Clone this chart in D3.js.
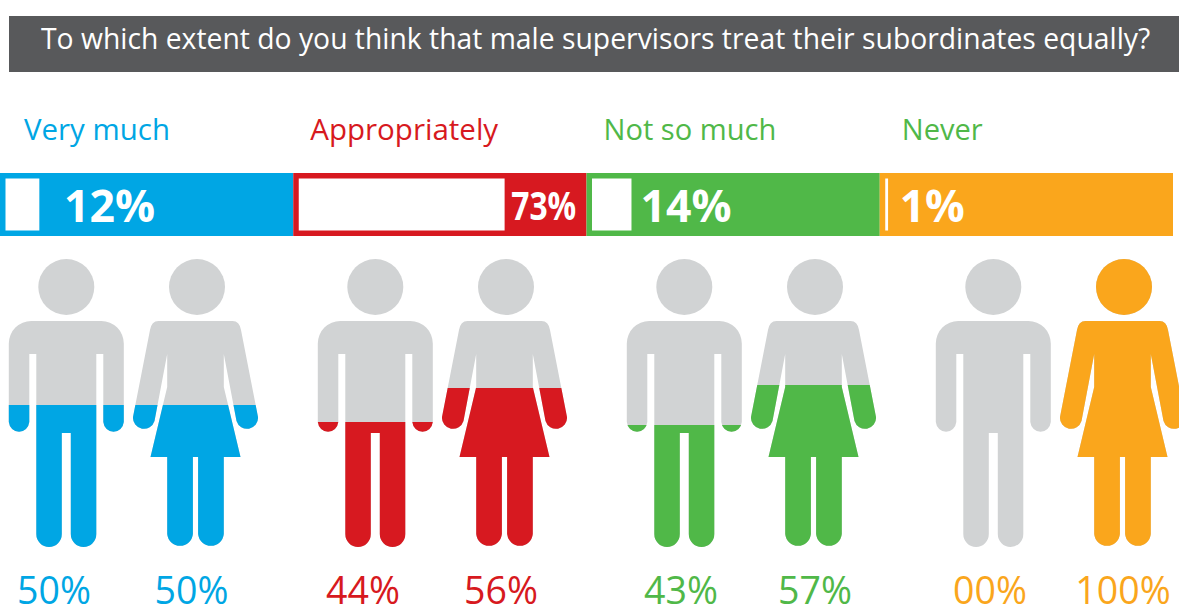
<!DOCTYPE html>
<html>
<head>
<meta charset="utf-8">
<script src="https://cdn.jsdelivr.net/npm/d3@7/dist/d3.min.js"></script>
<style>
  html, body { margin: 0; padding: 0; background: #fff; overflow: hidden; }
  text { font-family: "Open Sans", "Noto Sans", sans-serif; }
</style>
</head>
<body>
<svg id="chart" width="1179" height="609"></svg>
<script>
// Survey answers
const question = "To which extent do you think that male supervisors treat their subordinates equally?";
const categories = ["Very much", "Appropriately", "Not so much", "Never"];
const overallShare = [12, 73, 14, 1];
const maleShare = [50, 44, 43, 0];
const femaleShare = [50, 56, 57, 100];
const maleLabels = ["50%", "44%", "43%", "00%"];
const femaleLabels = ["50%", "56%", "57%", "100%"];
const barColors = ["#00a6e4", "#d71920", "#50b848", "#faa61c"];
const headerColors = ["#00a6e4", "#d71920", "#50b848", "#50b848"];

const GREY = "#d1d3d4";
const svg = d3.select("#chart");

// Squeezes a text horizontally to a target width, keeping its glyph height
function placeFitted(sel, x, y, width) {
  sel.each(function () {
    const k = width / this.getComputedTextLength();
    d3.select(this).attr("transform", `translate(${x},${y}) scale(${k},1)`);
  });
}

// Title banner
svg.append("rect").attr("x", 9).attr("y", 16).attr("width", 1170).attr("height", 56).attr("fill", "#58595b");
svg.append("text").attr("font-size", 30).attr("fill", "#fff").text(question)
  .call(placeFitted, 41, 49, 1110);

// Stacked band of four equal panels, each holding a white gauge
const bandX = d3.scaleBand().domain(categories).range([0, 1173]);
const gaugeW = d3.scaleLinear().domain([0, 100]).range([0, 282]);
const headerOffset = [24, 17, 17, 22];
const headerWidth = [146, 188, 173, 81];
const valueOffset = [64, 218, 54, 20];
const valueBaseline = [222, 220, 222, 222];
const valueWidth = [91, 65, 91, 65];
const valueSize = [45, 40, 45, 45];

const panels = svg.selectAll("g.panel").data(categories).join("g").attr("class", "panel")
  .attr("transform", c => `translate(${bandX(c)},0)`);

panels.append("rect").attr("y", 173).attr("height", 63)
  .attr("width", bandX.bandwidth()).attr("fill", (c, i) => barColors[i]);
panels.append("rect").attr("x", 5.5).attr("y", 178.5).attr("height", 52)
  .attr("width", (c, i) => gaugeW(overallShare[i])).attr("fill", "#fff");
panels.append("text")
  .attr("font-size", (c, i) => valueSize[i]).attr("font-weight", 700).attr("fill", "#fff")
  .text((c, i) => overallShare[i] + "%")
  .each(function (c, i) {
    d3.select(this).call(placeFitted, valueOffset[i], valueBaseline[i], valueWidth[i]);
  });
panels.append("text")
  .attr("font-size", 30).attr("fill", (c, i) => headerColors[i])
  .text(c => c)
  .each(function (c, i) {
    d3.select(this).call(placeFitted, headerOffset[i], 140, headerWidth[i]);
  });

// Pictogram outlines, centred on x = 0 with y on the page
const manBody = "M-35,321 H35 A22.5,22.5 0 0 1 57.5,343.5 V422 A10.3,10.7 0 0 1 37,422 V354 H30 V534 A12.7,13 0 0 1 4.5,534 V433 H-4.5 V534 A12.7,13 0 0 1 -30,534 V354 H-37 V422 A10.3,10.7 0 0 1 -57.5,422 V343.5 A22.5,22.5 0 0 1 -35,321 Z";
const womanBody = "M-37,321 H37 Q44,321 45.5,330 L62.5,417 A11,11 0 0 1 41,421 L28.3,354 V387 L45,457 H28.3 V534 A12.9,13 0 0 1 2.6,534 V457 H-2.6 V534 A12.9,13 0 0 1 -28.3,534 V457 H-45 L-28.3,387 V354 L-41,421 A11,11 0 0 1 -62.5,417 L-45.5,330 Q-44,321 -37,321 Z";

const figureGroup = d3.scaleBand().domain(categories).range([10, 1246]);
const fillY = d3.scaleLinear().domain([0, 100]).range([547, 263]);
const maleLabelX = [54, 363, 681, 990];
const femaleLabelX = [191.5, 501, 815, 1123];

function drawFigure(id, body, cx, headDx, value, color, label, labelX) {
  const g = svg.append("g").attr("transform", `translate(${cx},0)`);
  const shape = (sel, fill) => {
    sel.append("circle").attr("cx", headDx).attr("cy", 287).attr("r", 28).attr("fill", fill);
    sel.append("path").attr("d", body).attr("fill", fill);
  };
  shape(g, GREY);
  if (value > 0) {
    const top = value >= 100 ? 250 : fillY(value);
    g.append("clipPath").attr("id", id).append("rect")
      .attr("x", -70).attr("y", top).attr("width", 140).attr("height", 560 - top);
    shape(g.append("g").attr("clip-path", `url(#${id})`), color);
  }
  svg.append("text").attr("x", labelX).attr("y", 604).attr("text-anchor", "middle")
    .attr("font-size", 37.5).attr("fill", color).text(label);
}

categories.forEach((c, i) => {
  const x0 = figureGroup(c);
  drawFigure(`man-${i}`, manBody, x0 + 56.3, 0, maleShare[i], barColors[i], maleLabels[i], maleLabelX[i]);
  drawFigure(`woman-${i}`, womanBody, x0 + 185.5, 1.5, femaleShare[i], barColors[i], femaleLabels[i], femaleLabelX[i]);
});
</script>
</body>
</html>
